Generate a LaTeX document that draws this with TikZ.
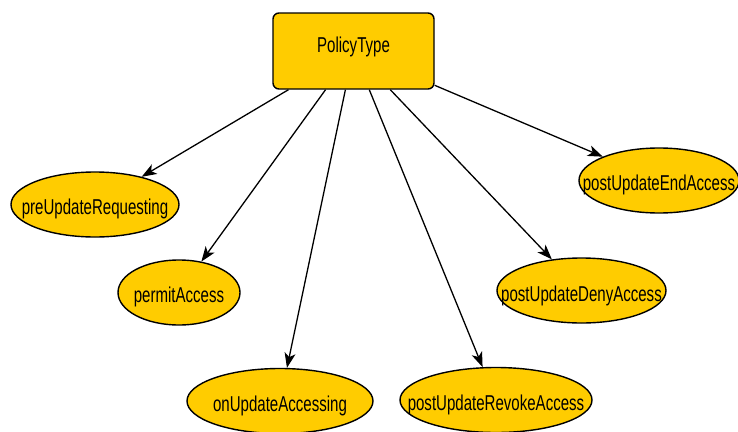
\documentclass[tikz,border=0pt]{standalone}
\usepackage{fontspec}
\newfontfamily\narrowsans{Liberation Sans}[FakeStretch=0.70]
\usetikzlibrary{shapes.geometric,arrows.meta}
% text of zero size, set on a baseline the given distance below the node centre
\newcommand{\setlabel}[2]{\raisebox{-#1}[0pt][0pt]{\makebox[0pt][c]{#2}}}
\definecolor{gold}{HTML}{FFCC00}
\tikzset{
  typebox/.style={draw=black, fill=gold, line width=1.4pt, rounded corners=6pt,
    minimum width=161pt, minimum height=76pt, inner sep=0pt,
    font=\narrowsans\fontsize{21.5}{24}\selectfont},
  policy/.style={ellipse, draw=black, fill=gold, line width=1.4pt, inner sep=0pt,
    minimum height=65pt, font=\narrowsans\fontsize{21.5}{24}\selectfont},
  link/.style={draw=black, line width=1.3pt,
    -{Stealth[length=15pt,width=11pt,inset=4pt]}}
}
\begin{document}
\begin{tikzpicture}[x=1pt,y=-1pt]
  \useasboundingbox (0,0) rectangle (738,431);
  % root type
  \node[typebox] (root) at (353.5,51) {\setlabel{1.5pt}{PolicyType}};
  % policy kinds
  \node[policy, minimum width=168pt] (req) at (95,204.5) {\setlabel{10pt}{preUpdateRequesting}};
  \node[policy, minimum width=122pt] (permit) at (179,292.5) {\setlabel{9.5pt}{permitAccess}};
  \node[policy, minimum width=186pt] (onupd) at (280,401) {\setlabel{10pt}{onUpdateAccessing}};
  \node[policy, minimum width=192pt] (revoke) at (496,400) {\setlabel{10pt}{postUpdateRevokeAccess}};
  \node[policy, minimum width=169pt] (deny) at (581.5,290.5) {\setlabel{10.5pt}{postUpdateDenyAccess}};
  \node[policy, minimum width=160pt] (endacc) at (659,180.5) {\setlabel{10pt}{postUpdateEndAccess}};
  % connectors
  \foreach \t in {req,permit,onupd,revoke,deny,endacc}
    \draw[link] (root) -- (\t);
\end{tikzpicture}
\end{document}
